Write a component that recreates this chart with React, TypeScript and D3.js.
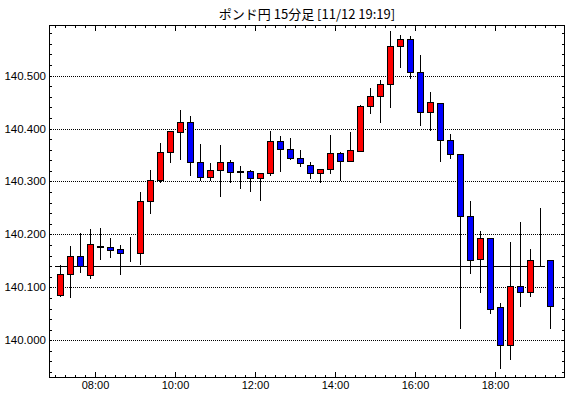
import React from "react";
import * as d3 from "d3";

const title = "ポンド円 15分足 [11/12 19:19]";
const times = [
  "07:00","07:15","07:30","07:45","08:00","08:15","08:30","08:45","09:00","09:15",
  "09:30","09:45","10:00","10:15","10:30","10:45","11:00","11:15","11:30","11:45",
  "12:00","12:15","12:30","12:45","13:00","13:15","13:30","13:45","14:00","14:15",
  "14:30","14:45","15:00","15:15","15:30","15:45","16:00","16:15","16:30","16:45",
  "17:00","17:15","17:30","17:45","18:00","18:15","18:30","18:45","19:00","19:15",
];
const opens = [
  140.085,140.125,140.159,140.123,140.178,140.176,140.172,140.164,140.164,140.263,
  140.302,140.355,140.393,140.412,140.336,140.308,140.321,140.336,140.319,140.320,
  140.306,140.316,140.377,140.361,140.344,140.332,140.316,140.323,140.353,140.338,
  140.358,140.442,140.461,140.484,140.555,140.569,140.507,140.431,140.448,140.378,
  140.351,140.234,140.154,140.193,140.062,139.992,140.102,140.091,140.151,140.151,
];
const highs = [
  140.142,140.178,140.202,140.210,140.212,140.193,140.180,140.195,140.281,140.322,
  140.373,140.395,140.435,140.424,140.371,140.335,140.369,140.340,140.329,140.322,
  140.316,140.395,140.386,140.382,140.359,140.336,140.323,140.388,140.356,140.393,
  140.444,140.477,140.491,140.584,140.577,140.574,140.538,140.469,140.448,140.390,
  140.351,140.263,140.207,140.193,140.071,140.186,140.224,140.173,140.250,140.151,
];
const lows = [
  140.082,140.079,140.128,140.115,140.152,140.156,140.124,140.148,140.142,140.239,
  140.297,140.334,140.341,140.310,140.300,140.300,140.271,140.298,140.286,140.281,
  140.264,140.311,140.317,140.340,140.328,140.305,140.297,140.315,140.300,140.338,
  140.358,140.428,140.411,140.439,140.515,140.494,140.405,140.396,140.336,140.343,
  140.021,140.126,140.090,140.049,139.946,139.962,140.062,140.081,140.140,140.022,
];
const closes = [
  140.125,140.159,140.141,140.181,140.177,140.171,140.164,140.164,140.263,140.302,
  140.355,140.395,140.412,140.336,140.308,140.321,140.336,140.317,140.318,140.306,
  140.316,140.377,140.361,140.344,140.334,140.316,140.323,140.353,140.338,140.359,
  140.442,140.461,140.484,140.555,140.569,140.507,140.431,140.450,140.378,140.351,
  140.234,140.152,140.193,140.060,139.992,140.102,140.091,140.151,140.151,140.064,
];
const yGridValues = [140.0, 140.1, 140.2, 140.3, 140.4, 140.5];
const xLabelTimes = ["08:00", "10:00", "12:00", "14:00", "16:00", "18:00"];
const refLineValue = 140.14;
const refLineStart = "07:00";
const refLineEnd = "19:15";

const W = 570, H = 398;
const L = 49, R = 565, T = 25, B = 378;

const toMin = (s: string) => {
  const [h, m] = s.split(":").map(Number);
  return (h - 7) * 60 + m;
};

export default function App() {
  const x = d3.scaleLinear().domain([-9, 765]).range([L, R]);
  const y = d3.scaleLinear().domain([139.9288, 140.5956]).range([B, T]);
  const snap = (v: number) => Math.round(v) + 0.5;

  const minorX = d3.range(0, 765, 15);
  const minorY = d3.range(139.94, 140.59, 0.02);
  const bw = 5;

  return (
    <svg width={W} height={H} style={{ display: "block", position: "absolute", left: 0, top: 0 }}
      fontFamily="'Liberation Sans', Arial, sans-serif">
      <rect x={0} y={0} width={W} height={H} fill="#fff" />
      <text x={(L + R) / 2} y={19} textAnchor="middle" fontSize={13}
        fontFamily="'Noto Sans CJK JP', sans-serif" fill="#000">{title}</text>

      {yGridValues.map((v) => (
        <g key={v}>
          <line x1={L} x2={R} y1={snap(y(v))} y2={snap(y(v))} stroke="#000" strokeDasharray="1,1" />
          <text x={L - 3} y={Math.round(y(v)) + 4} textAnchor="end" fontSize={11.5} fill="#000">
            {v.toFixed(3)}
          </text>
        </g>
      ))}

      {minorY.map((v, i) => (
        <g key={"my" + i}>
          <line x1={L} x2={L + 3} y1={snap(y(v))} y2={snap(y(v))} stroke="#000" />
          <line x1={R - 3} x2={R} y1={snap(y(v))} y2={snap(y(v))} stroke="#000" />
        </g>
      ))}

      {minorX.map((m) => {
        const major = m % 120 === 60;
        const len = major ? 6 : 3;
        const xx = snap(x(m));
        return (
          <g key={"mx" + m}>
            <line x1={xx} x2={xx} y1={T} y2={T + len} stroke="#000" />
            <line x1={xx} x2={xx} y1={B} y2={B - len} stroke="#000" />
          </g>
        );
      })}

      {xLabelTimes.map((t) => (
        <text key={t} x={x(toMin(t)) + 0.5} y={389} textAnchor="middle" fontSize={11} fill="#000">
          {t}
        </text>
      ))}

      <line x1={x(toMin(refLineStart))} x2={x(toMin(refLineEnd))}
        y1={snap(y(refLineValue))} y2={snap(y(refLineValue))} stroke="#000" />

      {times.map((t, i) => {
        const cx = Math.round(x(toMin(t) + 7.5)) + 0.5;
        const o = opens[i], c = closes[i];
        const top = Math.round(y(Math.max(o, c)));
        const bot = Math.round(y(Math.min(o, c)));
        const up = c > o;
        const flat = bot - top < 1;
        const fill = flat ? "#000" : up ? "#ff0000" : "#0000ff";
        return (
          <g key={t}>
            <line x1={cx} x2={cx} y1={Math.round(y(highs[i]))} y2={Math.round(y(lows[i]))} stroke="#000" />
            <rect x={cx - 3} y={top + 0.5} width={bw + 1} height={Math.max(bot - top, 0)}
              fill={fill} stroke="#000" strokeWidth={1} />
          </g>
        );
      })}

      <rect x={L + 0.5} y={T + 0.5} width={R - L - 1} height={B - T - 1} fill="none" stroke="#000" />
    </svg>
  );
}
